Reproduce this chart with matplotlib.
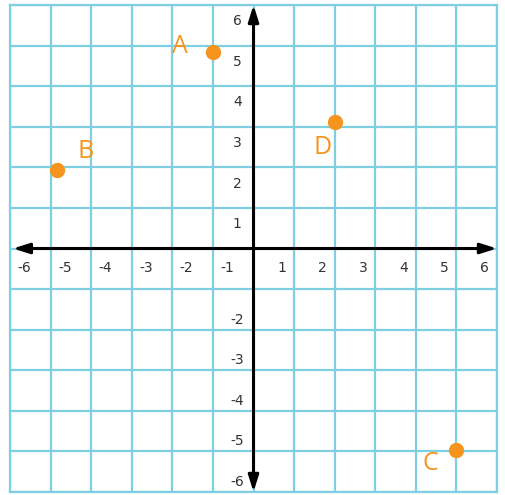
import matplotlib.pyplot as plt

# points
names = ["A", "B", "C", "D"]
xs = [-1.0, -4.84, 4.99, 2.01]
ys = [4.85, 1.93, -4.97, 3.12]
# where each letter sits
label_x = [-1.81, -4.13, 4.37, 1.69]
label_y = [4.97, 2.38, -5.31, 2.5]

ticks = [-6, -5, -4, -3, -2, -1, 1, 2, 3, 4, 5, 6]

grid_color = "#7fcfe3"
orange = "#f7941d"

fig = plt.figure(figsize=(5.05, 4.95), dpi=100)
ax = fig.add_axes([10 / 505, 3 / 495, 487 / 505, 487 / 495])
ax.set_xlim(-6, 6)
ax.set_ylim(-6, 6)
ax.set_xticks(range(-6, 7))
ax.set_yticks(range(-6, 7))
ax.grid(True, color=grid_color, linewidth=1.6)
ax.tick_params(length=0, labelbottom=False, labelleft=False)
for s in ax.spines.values():
    s.set_color(grid_color)
    s.set_linewidth(1.6)

# axes with arrows
arrow = dict(arrowstyle="<|-|>,head_length=0.7,head_width=0.22", color="black", lw=2.2,
             mutation_scale=14, shrinkA=0, shrinkB=0)
ax.annotate("", xy=(6, 0), xytext=(-5.93, 0), arrowprops=arrow)
ax.annotate("", xy=(0, 6), xytext=(0, -6), arrowprops=arrow)

# tick numbers
for t in ticks:
    dx = 0.35 if t < 0 else -0.3
    ax.text(t + dx, -0.48, str(t), ha="center", va="center", fontsize=10, color="#333333")
    if t == -1:
        continue
    dy = 0.25 if t < 0 else -0.4
    ax.text(-0.4, t + dy, str(t), ha="center", va="center", fontsize=10, color="#333333")

ax.plot(xs, ys, "o", color=orange, ms=10, zorder=5)
for n, lx, ly in zip(names, label_x, label_y):
    ax.text(lx, ly, n, ha="center", va="center", fontsize=18, color=orange, family="Open Sans")

fig.savefig("out.png", dpi=100)
